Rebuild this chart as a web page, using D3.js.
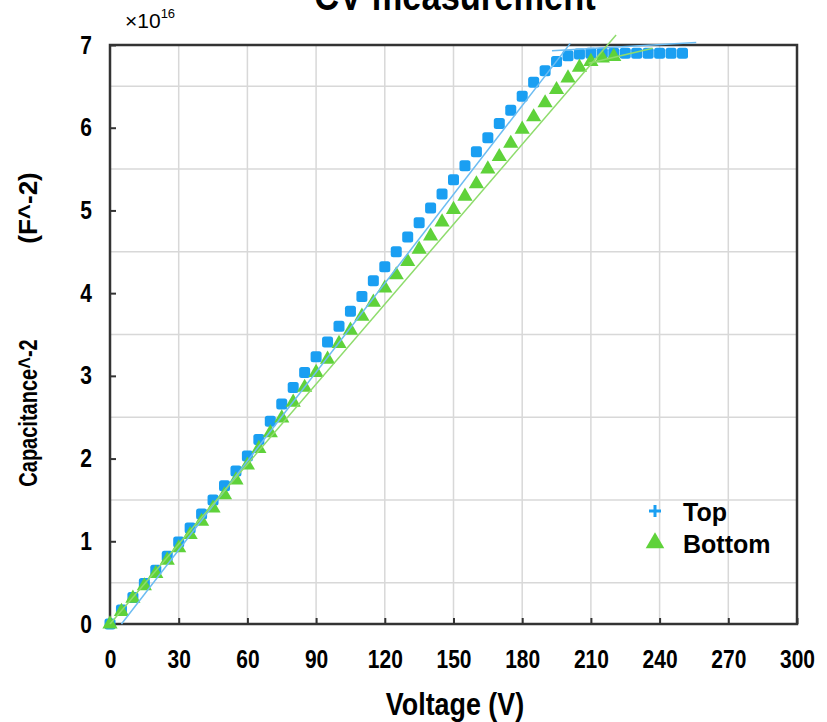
<!doctype html>
<meta charset='utf-8' />
<script src='https://cdn.jsdelivr.net/npm/d3@7'></script>
<style>
    body { margin: 0; background: #fff; }
    text { font-family: 'Liberation Sans', Arial, sans-serif; font-weight: bold; fill: #000; }
</style>
<svg></svg>
<script>
    var width = 827,
        height = 722

    // values in units of 1e16 F^-2
    var voltageTop = [0, 5, 10, 15, 20, 25, 30, 35, 40, 45, 50, 55, 60, 65, 70, 75, 80, 85, 90, 95,
        100, 105, 110, 115, 120, 125, 130, 135, 140, 145, 150, 155, 160, 165, 170, 175, 180, 185, 190, 195,
        200, 205, 210, 215, 220, 225, 230, 235, 240, 245, 250]
    var capTop = [0, 0.17, 0.32, 0.49, 0.65, 0.82, 0.99, 1.16, 1.33, 1.50, 1.67, 1.85, 2.03, 2.23, 2.45, 2.66, 2.86, 3.04, 3.23, 3.41,
        3.60, 3.78, 3.96, 4.15, 4.32, 4.50, 4.68, 4.85, 5.03, 5.20, 5.37, 5.54, 5.71, 5.88, 6.05, 6.21, 6.38, 6.55, 6.69, 6.80,
        6.87, 6.89, 6.90, 6.90, 6.90, 6.90, 6.90, 6.90, 6.90, 6.90, 6.90]

    var voltageBottom = [0, 5, 10, 15, 20, 25, 30, 35, 40, 45, 50, 55, 60, 65, 70, 75, 80, 85, 90, 95,
        100, 105, 110, 115, 120, 125, 130, 135, 140, 145, 150, 155, 160, 165, 170, 175, 180, 185, 190, 195,
        200, 205, 210, 215, 220]
    var capBottom = [0, 0.15, 0.31, 0.46, 0.61, 0.77, 0.92, 1.08, 1.24, 1.40, 1.56, 1.74, 1.92, 2.12, 2.31, 2.49, 2.68, 2.86, 3.04, 3.20,
        3.39, 3.55, 3.72, 3.89, 4.06, 4.22, 4.38, 4.53, 4.69, 4.86, 5.01, 5.17, 5.32, 5.50, 5.65, 5.81, 5.98, 6.13, 6.30, 6.46,
        6.60, 6.73, 6.80, 6.84, 6.86]

    // linear fits drawn over the data
    var fitTopRise = [[5, 0], [201, 7.02]]
    var fitTopFlat = [[193, 6.93], [256, 7.03]]
    var fitBottomRise = [[0, 0], [221, 7.12]]
    var fitBottomFlat = [[209, 6.78], [237, 6.96]]

    var xTicks = [0, 30, 60, 90, 120, 150, 180, 210, 240, 270, 300]
    var yTicks = [0, 1, 2, 3, 4, 5, 6, 7]
    var xGrid = [30, 60, 90, 120, 150, 180, 210, 240, 270]
    var yGrid = [0.5, 1.5, 2.5, 3.5, 4.5, 5.5, 6.5]

    var blue = '#1a9ff2', green = '#5fd23a'
    var squeeze = 0.84   // reference uses a condensed face

    var svg = d3.select('svg')
        .attr('width', width)
        .attr('height', height)

    var x = d3.scaleLinear().domain([0, 300]).range([110, 797])
    var y = d3.scaleLinear().domain([0, 7]).range([624, 45])

    // grid
    svg.selectAll('.gx').data(xGrid).enter().append('line')
        .attr('x1', d => x(d)).attr('x2', d => x(d))
        .attr('y1', y(0)).attr('y2', y(7))
        .style('stroke', '#d8d8d8').style('stroke-width', 1.5)
    svg.selectAll('.gy').data(yGrid).enter().append('line')
        .attr('y1', d => y(d)).attr('y2', d => y(d))
        .attr('x1', x(0)).attr('x2', x(300))
        .style('stroke', '#d8d8d8').style('stroke-width', 1.5)

    // axes with inward ticks
    var xAxis = svg.append('g')
        .attr('transform', 'translate(0,' + y(0) + ')')
        .call(d3.axisBottom(x).tickValues(xTicks).tickSizeInner(-6).tickSizeOuter(0).tickPadding(26))
    var yAxis = svg.append('g')
        .attr('transform', 'translate(' + x(0) + ',0)')
        .call(d3.axisLeft(y).tickValues(yTicks).tickFormat(d3.format('d')).tickSizeInner(-6).tickSizeOuter(0).tickPadding(18))
    ;[xAxis, yAxis].forEach(g => {
        g.select('.domain').remove()
        g.selectAll('.tick line').style('stroke', '#333').style('stroke-width', 2)
        g.selectAll('.tick text').style('font-size', '25px').style('font-family', null)
            .attr('transform', 'scale(' + squeeze + ',1)')
    })
    yAxis.selectAll('.tick text').attr('x', -18 / squeeze)

    svg.append('rect')
        .attr('x', x(0)).attr('y', y(7))
        .attr('width', x(300) - x(0)).attr('height', y(0) - y(7))
        .style('fill', 'none').style('stroke', '#333').style('stroke-width', 2.5)

    // markers
    var topData = voltageTop.map((v, i) => ({ v: v, c: capTop[i] }))
    var bottomData = voltageBottom.map((v, i) => ({ v: v, c: capBottom[i] }))

    svg.selectAll('.sq').data(topData).enter().append('rect')
        .attr('x', d => x(d.v) - 5.5).attr('y', d => y(d.c) - 5.5)
        .attr('width', 11).attr('height', 11).attr('rx', 2.5)
        .style('fill', blue)

    var tri = d3.symbol().type(d3.symbolTriangle).size(100)
    svg.selectAll('.tri').data(bottomData).enter().append('path')
        .attr('d', tri)
        .attr('transform', d => 'translate(' + x(d.v) + ',' + y(d.c) + ')')
        .style('fill', green)

    var line = d3.line().x(d => x(d[0])).y(d => y(d[1]))
    ;[[fitTopRise, '#6cbcf2'], [fitTopFlat, '#6cbcf2'], [fitBottomRise, '#8edc6c'], [fitBottomFlat, '#8edc6c']].forEach(p => {
        svg.append('path').attr('d', line(p[0]))
            .style('fill', 'none').style('stroke', p[1]).style('stroke-width', 1.5)
    })

    // legend
    svg.append('path')
        .attr('d', 'M649,511H661M655,505V517')
        .style('stroke', blue).style('stroke-width', 3)
    svg.append('path')
        .attr('d', d3.symbol().type(d3.symbolTriangle).size(150))
        .attr('transform', 'translate(655,543)')
        .style('fill', green)
    svg.append('text').attr('x', 683).attr('y', 521).style('font-size', '25px').text('Top')
    svg.append('text').attr('x', 683).attr('y', 553).style('font-size', '25px').text('Bottom')

    // titles
    svg.append('text').attr('transform', 'translate(455,10) scale(' + squeeze + ',1)').attr('text-anchor', 'middle')
        .style('font-size', '41px').text('CV measurement')
    svg.append('text').attr('transform', 'translate(455,715) scale(' + squeeze + ',1)').attr('text-anchor', 'middle')
        .style('font-size', '32px').text('Voltage (V)')
    svg.append('text').attr('transform', 'translate(37,413) rotate(-90) scale(0.77,1)').attr('text-anchor', 'middle')
        .style('font-size', '26px').text('Capacitance^-2')
    svg.append('text').attr('transform', 'translate(37,208) rotate(-90)').attr('text-anchor', 'middle')
        .style('font-size', '26px').text('(F^-2)')

    var exp = svg.append('text').attr('transform', 'translate(125,28)')
        .style('font-weight', 'normal').style('font-size', '21px')
    exp.append('tspan').text('\u00d710')
    exp.append('tspan').attr('dy', -10).style('font-size', '13px').text('16')
</script>
